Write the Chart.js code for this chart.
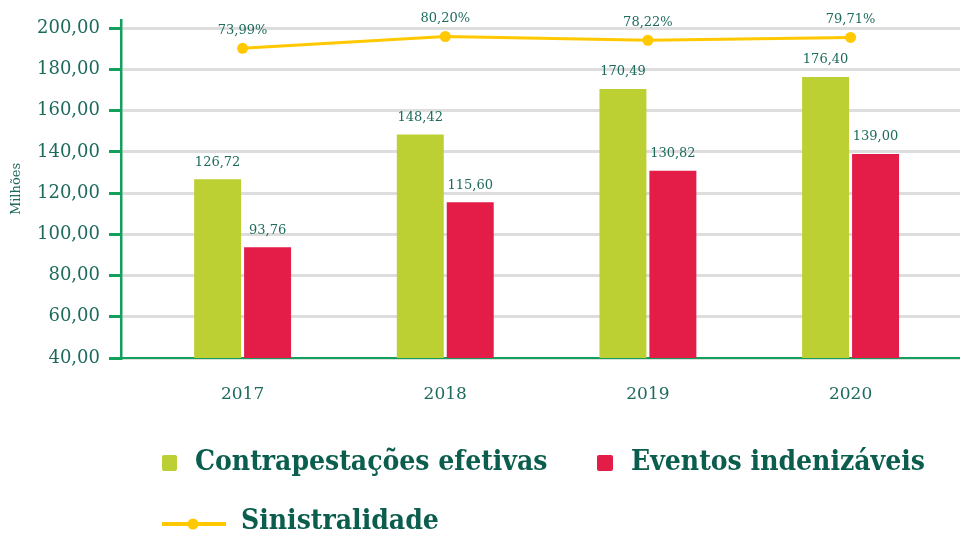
<!DOCTYPE html>
<html>
<head>
<meta charset="utf-8">
<script src="https://cdn.jsdelivr.net/npm/chart.js@4/dist/chart.umd.min.js"></script>
<style>
  html, body { margin: 0; padding: 0; background: #ffffff; }
  #wrap { width: 960px; height: 536px; position: relative; }
</style>
</head>
<body>
<div id="wrap"><canvas id="c" width="960" height="536"></canvas></div>
<script>
// ---- data ----
const years = ['2017', '2018', '2019', '2020'];
const contraprestacoes = [126.72, 148.42, 170.49, 176.40];
const eventos = [93.76, 115.60, 130.82, 139.00];
const sinistralidade = [73.99, 80.20, 78.22, 79.71];
const yTicks = [40, 60, 80, 100, 120, 140, 160, 180, 200];
const legendNames = ['Contrapestações efetivas', 'Eventos indenizáveis', 'Sinistralidade'];
const yTitle = 'Milhões';

// ---- style ----
const GREEN = '#BCCF33';
const RED = '#E31C48';
const YELLOW = '#FFC800';
const TEAL = '#1E6B5E';
const LEGEND_TEXT = '#0B5E4E';
const AXIS = '#12A05C';
const GRID = '#DDDDDD';

const fmt = v => v.toFixed(2).replace('.', ',');

const toXY = arr => arr.map((v, i) => ({ x: i, y: v }));

const valueLabels = {
  id: 'valueLabels',
  afterDatasetsDraw(chart) {
    const ctx = chart.ctx;
    ctx.save();
    ctx.fillStyle = TEAL;
    ctx.textAlign = 'center';
    ctx.textBaseline = 'middle';
    ctx.font = "13px 'DejaVu Serif'";
    chart.data.datasets.forEach((ds, i) => {
      const meta = chart.getDatasetMeta(i);
      meta.data.forEach((el, j) => {
        const v = ds.data[j].y;
        const isLine = ds.type === 'line';
        const txt = isLine ? fmt(v) + '%' : fmt(v);
        ctx.fillText(txt, el.x, el.y - (isLine ? 18 : 17));
      });
    });
    ctx.restore();
  }
};

const customLegend = {
  id: 'customLegend',
  afterDraw(chart) {
    const ctx = chart.ctx;
    ctx.save();
    ctx.font = "bold 28px 'DejaVu Serif Condensed', 'DejaVu Serif'";
    try { ctx.fontStretch = 'condensed'; } catch (e) {}
    ctx.textBaseline = 'middle';
    ctx.textAlign = 'left';
    // row 1
    ctx.fillStyle = GREEN;
    ctx.beginPath(); ctx.roundRect(162, 455, 15, 16, 2); ctx.fill();
    ctx.fillStyle = LEGEND_TEXT;
    ctx.fillText(legendNames[0], 195, 463);
    ctx.fillStyle = RED;
    ctx.beginPath(); ctx.roundRect(597, 455, 16, 16, 2); ctx.fill();
    ctx.fillStyle = LEGEND_TEXT;
    ctx.fillText(legendNames[1], 631, 463);
    // row 2
    ctx.strokeStyle = YELLOW;
    ctx.lineWidth = 4;
    ctx.beginPath(); ctx.moveTo(162, 524); ctx.lineTo(226, 524); ctx.stroke();
    ctx.fillStyle = YELLOW;
    ctx.beginPath(); ctx.arc(193, 524, 5.5, 0, Math.PI * 2); ctx.fill();
    ctx.fillStyle = LEGEND_TEXT;
    ctx.fillText(legendNames[2], 241, 522);
    ctx.restore();
  }
};

new Chart(document.getElementById('c'), {
  data: {
    datasets: [
      {
        type: 'line',
        label: legendNames[2],
        data: toXY(sinistralidade),
        yAxisID: 'y1',
        borderColor: YELLOW,
        backgroundColor: YELLOW,
        borderWidth: 3,
        pointRadius: 5.5,
        pointBackgroundColor: YELLOW,
        pointBorderWidth: 0,
        tension: 0,
        order: 0
      },
      {
        type: 'bar',
        label: legendNames[0],
        data: toXY(contraprestacoes),
        backgroundColor: GREEN,
        categoryPercentage: 0.493,
        barPercentage: 0.94,
        order: 1
      },
      {
        type: 'bar',
        label: legendNames[1],
        data: toXY(eventos),
        backgroundColor: RED,
        categoryPercentage: 0.493,
        barPercentage: 0.94,
        order: 1
      }
    ]
  },
  options: {
    responsive: false,
    animation: false,
    layout: { autoPadding: false, padding: { left: 2, right: 0, top: 20, bottom: 131 } },
    plugins: {
      legend: { display: false },
      tooltip: { enabled: false }
    },
    scales: {
      x: {
        type: 'linear',
        min: -0.6,
        max: 3.54,
        offset: false,
        grid: { display: false, drawTicks: false },
        border: { display: true, color: AXIS, width: 2 },
        afterBuildTicks: s => { s.ticks = years.map((_, i) => ({ value: i })); },
        afterFit: s => { s.height = 47; },
        ticks: {
          autoSkip: false,
          maxRotation: 0,
          padding: 26,
          color: TEAL,
          font: { family: 'DejaVu Serif', size: 17 },
          callback: v => years[v]
        }
      },
      y: {
        type: 'linear',
        min: 40,
        max: 204,
        afterBuildTicks: s => { s.ticks = yTicks.map(v => ({ value: v })); },
        afterFit: s => { s.width = 119; },
        grid: {
          color: GRID,
          lineWidth: 3,
          drawTicks: true,
          tickLength: 12,
          tickColor: AXIS,
          tickWidth: 3
        },
        border: { display: true, color: AXIS, width: 2.5 },
        title: {
          display: true,
          text: yTitle,
          color: TEAL,
          font: { family: 'DejaVu Serif', size: 13 },
          padding: { top: 7, bottom: 0 }
        },
        ticks: {
          padding: 9,
          color: TEAL,
          font: { family: 'DejaVu Serif', size: 18 },
          callback: v => fmt(v)
        }
      },
      y1: {
        type: 'linear',
        display: false,
        min: -89.4,
        max: 88.9
      }
    }
  },
  plugins: [valueLabels, customLegend]
});
</script>
</body>
</html>
